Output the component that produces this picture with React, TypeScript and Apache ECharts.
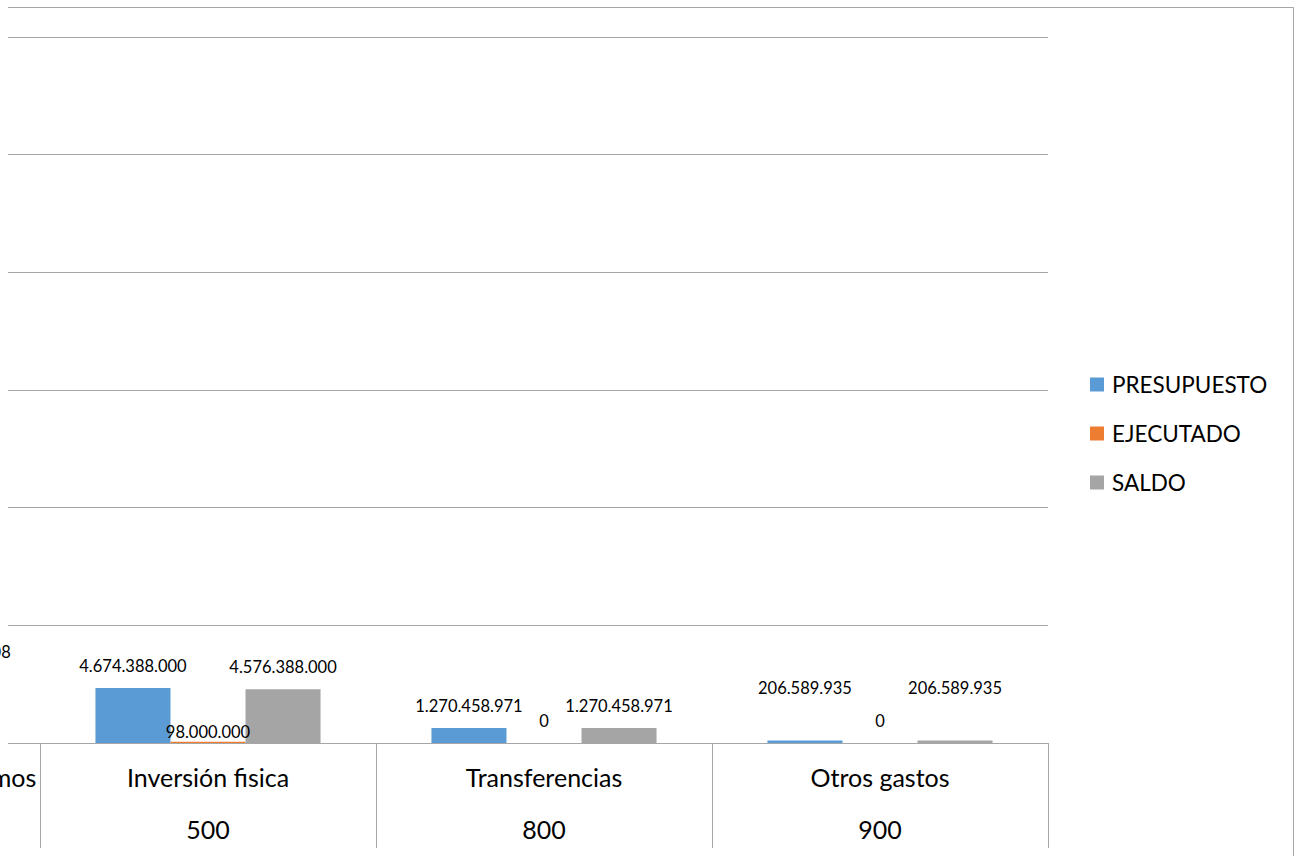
import React, { useEffect, useRef } from "react";
import * as echarts from "echarts";

// Categories (the first one is only partly visible at the left edge)
const categories = ["Bienes de consumo e insumos", "Inversión fisica", "Transferencias", "Otros gastos"];
const codes = ["300", "500", "800", "900"];

const presupuesto = [5924000008, 4674388000, 1270458971, 206589935];
const ejecutado = [98000000, 98000000, 0, 0];
const saldo = [5826000008, 4576388000, 1270458971, 206589935];

const seriesNames = ["PRESUPUESTO", "EJECUTADO", "SALDO"];
const colors = ["#5b9bd5", "#ed7d31", "#a5a5a5"];

// manual label nudges [dx, dy] (px), per series, per category
const labelShift = [
  [[0, 0], [0, 0], [0, 0], [0, -31]],
  [[0, 0], [0, 12.5], [0, 0], [0, 0]],
  [[10, 0], [0, 0], [0, 0], [0, -31]],
];

const yTicks = { min: 0, max: 60000000000, interval: 10000000000 };

const fmt = (v: number) => String(Math.round(v)).replace(/\B(?=(\d{3})+(?!\d))/g, ".");

const OFFSET = 400;
const W = 1295 + OFFSET;
const H = 856;
const FONT = "Lato, 'Open Sans', sans-serif";

export default function App() {
  const ref = useRef<HTMLDivElement>(null);
  useEffect(() => {
    if (!ref.current) return;
    const chart = echarts.init(ref.current, undefined, { renderer: "svg" });
    const all = [presupuesto, ejecutado, saldo];
    chart.setOption({
      animation: false,
      textStyle: { fontFamily: FONT },
      grid: { left: OFFSET - 296, right: W - (1048 + OFFSET), top: 37, bottom: H - 743, containLabel: false },
      legend: {
        orient: "vertical",
        left: 1090 + OFFSET,
        top: 373,
        padding: 0,
        itemWidth: 14,
        itemHeight: 14,
        itemGap: 26,
        icon: "rect",
        textStyle: { fontSize: 22.5, color: "#000", fontFamily: FONT, lineHeight: 22, padding: [0, 0, 0, 3] },
        data: seriesNames,
      },
      xAxis: {
        type: "category",
        data: categories,
        axisLine: { lineStyle: { color: "#a6a6a6", width: 1 } },
        axisTick: { show: true, interval: 0, length: 105, alignWithLabel: false, lineStyle: { color: "#a6a6a6" } },
        axisLabel: {
          interval: 0,
          margin: 8,
          formatter: (v: string, i: number) => `{n|${v}}\n{c|${codes[i]}}`,
          rich: {
            n: { fontSize: 25, lineHeight: 52, color: "#000", fontFamily: FONT },
            c: { fontSize: 25, lineHeight: 52, color: "#000", fontFamily: FONT },
          },
        },
      },
      yAxis: {
        type: "value",
        min: yTicks.min,
        max: yTicks.max,
        interval: yTicks.interval,
        axisLabel: { show: false },
        axisLine: { show: false },
        axisTick: { show: false },
        splitLine: { lineStyle: { color: "#a6a6a6", width: 1 } },
      },
      series: seriesNames.map((name, s) => ({
        name,
        type: "bar",
        barGap: "0%",
        barCategoryGap: "33%",
        itemStyle: { color: colors[s] },
        label: {
          show: true,
          position: "top",
          distance: 14,
          fontSize: 16.5,
          lineHeight: 16,
          color: "#000",
          fontFamily: FONT,
          formatter: (p: any) => fmt(p.value),
        },
        data: all[s].map((v, i) => ({ value: v, label: { offset: labelShift[s][i] } })),
      })),
      graphic: [
        {
          type: "polyline",
          z: 100,
          shape: { points: [[OFFSET + 8, 7.5], [W - 1.5, 7.5], [W - 1.5, H]] },
          style: { stroke: "#a6a6a6", fill: "none", lineWidth: 1 },
        },
        { type: "rect", z: 100, shape: { x: OFFSET - 10, y: 0, width: 18, height: 641 }, style: { fill: "#fff" } },
        { type: "rect", z: 100, shape: { x: OFFSET - 10, y: 736, width: 18, height: 14 }, style: { fill: "#fff" } },
      ],
    });
    return () => chart.dispose();
  }, []);
  return (
    <div style={{ position: "absolute", left: 0, top: 0, width: 1295, height: H, overflow: "hidden", background: "#fff" }}>
      <div ref={ref} style={{ position: "absolute", left: -OFFSET, top: 0, width: W, height: H }} />
    </div>
  );
}
